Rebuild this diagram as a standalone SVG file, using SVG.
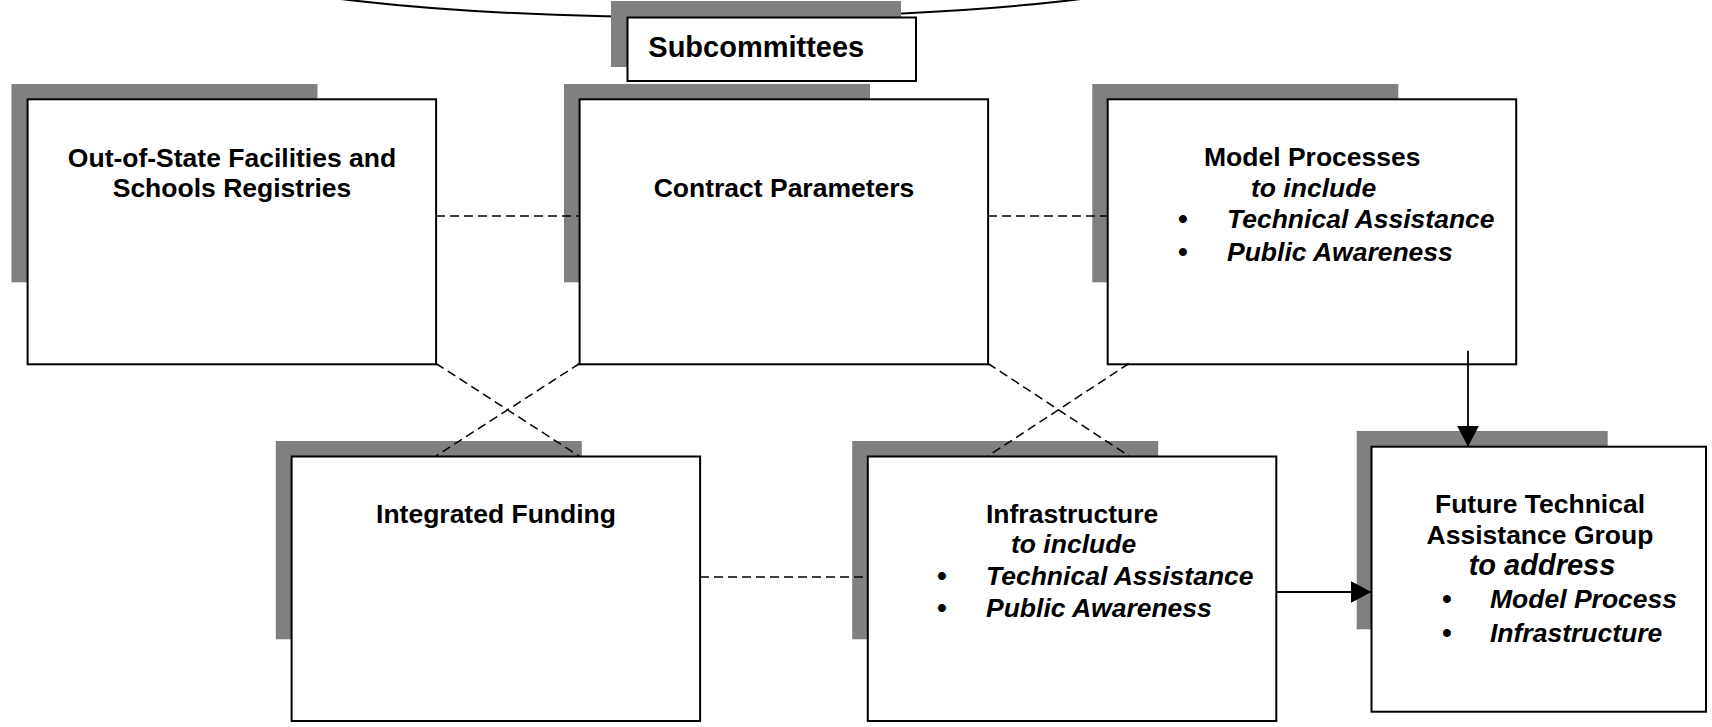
<svg xmlns="http://www.w3.org/2000/svg" width="1712" height="727" viewBox="0 0 1712 727">
  <style>
    .shadow { fill: #808080; }
    .box { fill: #ffffff; stroke: #000000; stroke-width: 2; }
    .t { font-family: "Liberation Sans", Arial, sans-serif; font-weight: bold; font-size: 26.5px; fill: #000000; }
    .i { font-style: italic; }
    .mid { text-anchor: middle; }
    .dot { font-style: normal; font-size: 28px; }
    .dash { fill: none; stroke: #000000; stroke-width: 1.5; stroke-dasharray: 9 5; }
    .solid { fill: none; stroke: #000000; stroke-width: 1.8; }
  </style>
  <defs>
    <marker id="head" markerWidth="22" markerHeight="22" refX="21" refY="11" orient="auto" markerUnits="userSpaceOnUse">
      <path d="M0,0 L21,11 L0,22 Z" fill="#000000"/>
    </marker>
  </defs>

  <rect width="1712" height="727" fill="#ffffff"/>

  <!-- parent committee outline, running off the top edge -->
  <ellipse cx="711" cy="-39" rx="500" ry="56.5" fill="#ffffff" stroke="#000000" stroke-width="2"/>

  <g id="subcommittees">
    <rect class="shadow" x="611" y="1" width="290" height="66"/>
    <rect class="box" x="627.5" y="17.5" width="288.5" height="63.5"/>
    <text class="t" x="648.3" y="56.7" style="font-size:29px">Subcommittees</text>
  </g>

  <g id="out-of-state">
    <rect class="shadow" x="11.5" y="84" width="306" height="198.3"/>
    <rect class="box" x="27.6" y="99.3" width="408.5" height="265"/>
    <text class="t mid" x="232" y="166.5">Out-of-State Facilities and</text>
    <text class="t mid" x="232" y="197">Schools Registries</text>
  </g>

  <g id="contract-parameters">
    <rect class="shadow" x="564" y="84" width="306" height="198.3"/>
    <rect class="box" x="579.6" y="99.3" width="408.5" height="265"/>
    <text class="t mid" x="784" y="197">Contract Parameters</text>
  </g>

  <g id="model-processes">
    <rect class="shadow" x="1092.3" y="84" width="306" height="198.3"/>
    <rect class="box" x="1107.7" y="99.3" width="408.5" height="265"/>
    <text class="t" x="1204" y="166">Model Processes</text>
    <text class="t i" x="1251" y="197">to include</text>
    <text class="t i" y="228"><tspan class="dot" x="1178">•</tspan><tspan x="1227">Technical Assistance</tspan></text>
    <text class="t i" y="261"><tspan class="dot" x="1178">•</tspan><tspan x="1227">Public Awareness</tspan></text>
  </g>

  <g id="integrated-funding">
    <rect class="shadow" x="275.8" y="441" width="306" height="198.3"/>
    <rect class="box" x="291.6" y="456.5" width="408.5" height="264.5"/>
    <text class="t mid" x="496" y="523">Integrated Funding</text>
  </g>

  <g id="infrastructure">
    <rect class="shadow" x="852.2" y="441" width="306" height="198.3"/>
    <rect class="box" x="867.8" y="456.5" width="408.5" height="264.5"/>
    <text class="t" x="986" y="522.5">Infrastructure</text>
    <text class="t i" x="1011" y="553">to include</text>
    <text class="t i" y="585"><tspan class="dot" x="937">•</tspan><tspan x="986">Technical Assistance</tspan></text>
    <text class="t i" y="617"><tspan class="dot" x="937">•</tspan><tspan x="986">Public Awareness</tspan></text>
  </g>

  <g id="future-ta-group">
    <rect class="shadow" x="1356.7" y="431" width="251" height="198.3"/>
    <rect class="box" x="1371.5" y="446.7" width="334.5" height="265"/>
    <text class="t mid" x="1540" y="513.3">Future Technical</text>
    <text class="t mid" x="1540" y="543.5">Assistance Group</text>
    <text class="t i mid" x="1542" y="575" style="font-size:29px">to address</text>
    <text class="t i" y="608.3"><tspan class="dot" x="1442">•</tspan><tspan x="1490">Model Process</tspan></text>
    <text class="t i" y="641.5"><tspan class="dot" x="1442">•</tspan><tspan x="1490">Infrastructure</tspan></text>
  </g>

  <g id="connectors">
    <line class="dash" x1="436" y1="216" x2="579.6" y2="216"/>
    <line class="dash" x1="988" y1="216" x2="1107.7" y2="216"/>
    <line class="dash" x1="700" y1="577" x2="867.8" y2="577"/>
    <line class="dash" x1="436" y1="363.5" x2="579" y2="456"/>
    <line class="dash" x1="579.6" y1="363.5" x2="436" y2="456"/>
    <line class="dash" x1="988" y1="363.5" x2="1129" y2="456"/>
    <line class="dash" x1="1129" y1="363.5" x2="988" y2="456"/>
    <line class="solid" x1="1468" y1="350.7" x2="1468" y2="446.7" marker-end="url(#head)"/>
    <line class="solid" x1="1276.3" y1="592" x2="1371.5" y2="592" marker-end="url(#head)"/>
  </g>
</svg>
